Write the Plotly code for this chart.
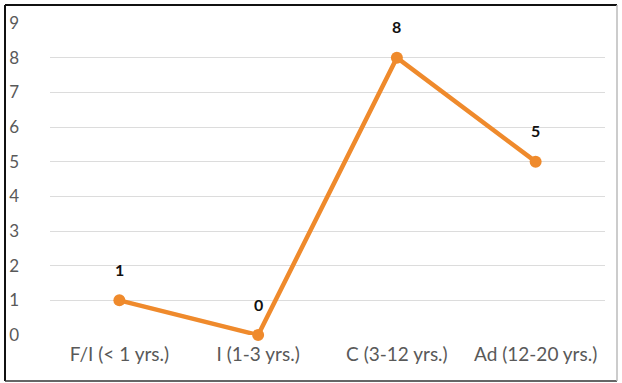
import plotly.graph_objects as go

# Age groups and counts
categories = ["F/I (< 1 yrs.)", "I (1-3 yrs.)", "C (3-12 yrs.)", "Ad (12-20 yrs.)"]
counts = [1, 0, 8, 5]
y_ticks = list(range(0, 10))

W, H = 622, 383
M_L, M_R, M_T, M_B = 50, 17, 23, 48
ORANGE = "#EF8A2C"
FONT = "Lato, Carlito, Open Sans, sans-serif"

fig = go.Figure()
fig.add_trace(go.Scatter(
    x=categories, y=counts,
    mode="lines+markers",
    line=dict(color=ORANGE, width=4.5),
    marker=dict(color=ORANGE, size=12),
    cliponaxis=False,
    hoverinfo="skip",
))

# value labels above each point
for c, v in zip(categories, counts):
    fig.add_annotation(
        x=c, y=v, text=f"<b>{v}</b>", showarrow=False,
        yshift=31, font=dict(family=FONT, size=16, color="#111111"),
    )

# outer frame around the whole chart
pw, ph = W - M_L - M_R, H - M_T - M_B
def px(x):
    return (x - M_L) / pw
def py(y):
    return (H - M_B - y) / ph
fig.add_shape(type="line", xref="paper", yref="paper",
              x0=px(5), x1=px(617), y0=py(5), y1=py(5),
              line=dict(color="#111111", width=2))
fig.add_shape(type="line", xref="paper", yref="paper",
              x0=px(5), x1=px(5), y0=py(5), y1=py(381),
              line=dict(color="#111111", width=2))
fig.add_shape(type="line", xref="paper", yref="paper",
              x0=px(5), x1=px(617), y0=py(381), y1=py(381),
              line=dict(color="#333333", width=1.5))
fig.add_shape(type="line", xref="paper", yref="paper",
              x0=px(617), x1=px(617), y0=py(5), y1=py(381),
              line=dict(color="#bbbbbb", width=1.5))

fig.update_layout(
    width=W, height=H,
    margin=dict(l=M_L, r=M_R, t=M_T, b=M_B),
    paper_bgcolor="white", plot_bgcolor="white",
    showlegend=False,
    font=dict(family=FONT, color="#595959", size=17),
    xaxis=dict(
        range=[-0.5, len(categories) - 0.5],
        showgrid=False, showline=False, zeroline=False, ticks="",
        tickfont=dict(size=19, color="#595959"),
        ticklabelstandoff=6,
        automargin=False,
    ),
    yaxis=dict(
        range=[0, 9], tickvals=y_ticks,
        showgrid=True, gridcolor="#dcdcdc", gridwidth=1,
        zeroline=False, showline=False, ticks="",
        tickfont=dict(size=17, color="#595959"),
        ticklabelstandoff=30,
        automargin=False,
    ),
)

fig.write_html("out.html")
